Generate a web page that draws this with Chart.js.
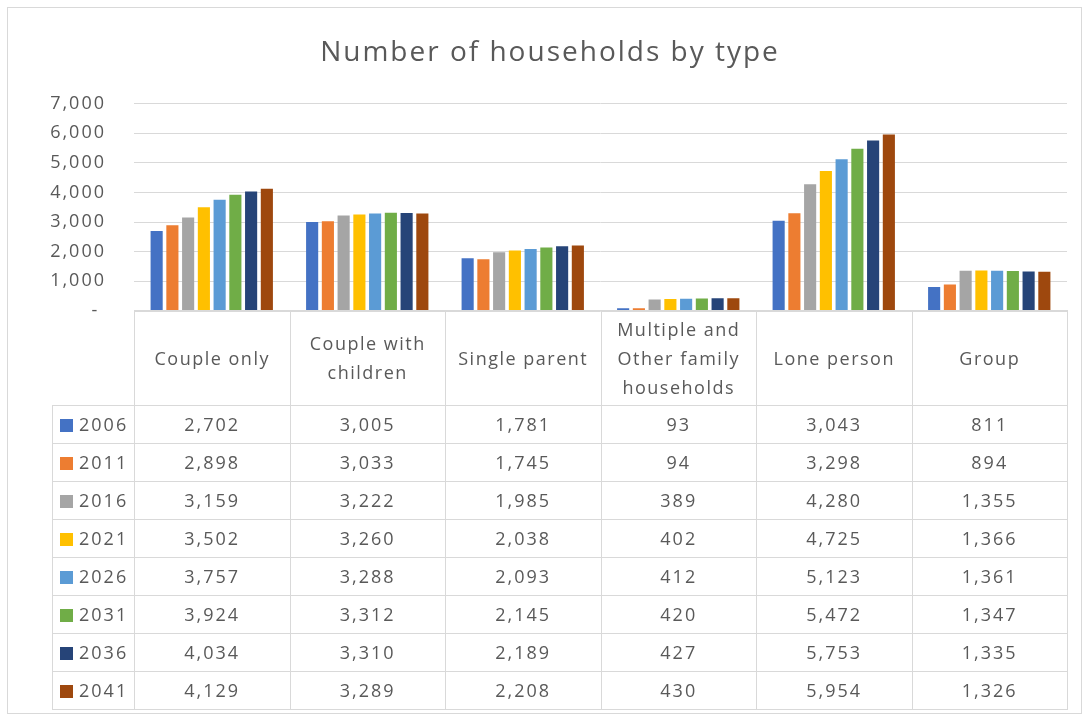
<!DOCTYPE html>
<html>
<head>
<meta charset="utf-8">
<script src="https://cdn.jsdelivr.net/npm/chart.js@4.4.1/dist/chart.umd.min.js"></script>
<style>
    body { margin: 0; background: #fff; }
    #wrap { position: relative; width: 1085px; height: 717px; }
    #frame { position: absolute; left: 7px; top: 7px; width: 1075px; height: 707px; border: 1px solid #d9d9d9; box-sizing: border-box; }
    #chartBox { position: absolute; left: 0; top: 0; width: 1085px; height: 717px; }
    #dataTable { position: absolute; left: 52px; top: 310px; border-collapse: collapse; table-layout: fixed;
        font-family: "Open Sans", sans-serif; font-size: 18px; color: #595959; letter-spacing: 1.5px; }
    #dataTable td { border: 1px solid #d9d9d9; text-align: center; padding: 0; line-height: 29px; }
    #dataTable td.num { letter-spacing: 2px; }
    #dataTable tr { height: 38px; }
    #dataTable tr.head { height: 95px; }
    #dataTable tr.head td.blank { border-top: none; border-left: none; }
    #dataTable td.key { text-align: left; padding-left: 7px; white-space: nowrap; letter-spacing: 2px; }
    .swatch { display: inline-block; width: 13px; height: 13px; margin-right: 6px; vertical-align: -1px; }
</style>
</head>
<body>
<div id="wrap">
    <div id="frame"></div>
    <div id="chartBox"><canvas id="householdChart"></canvas></div>
    <table id="dataTable"></table>
</div>
<script>
// household types (table header) and projection years
const categories = ['Couple only', 'Couple with children', 'Single parent', 'Multiple and Other family households', 'Lone person', 'Group'];
const headerLines = [['Couple only'], ['Couple with', 'children'], ['Single parent'], ['Multiple and', 'Other family', 'households'], ['Lone person'], ['Group']];
const years = ['2006', '2011', '2016', '2021', '2026', '2031', '2036', '2041'];
const yTicks = [0, 1000, 2000, 3000, 4000, 5000, 6000, 7000];

// one array per year, same order as categories
const v2006 = [2702, 3005, 1781, 93, 3043, 811];
const v2011 = [2898, 3033, 1745, 94, 3298, 894];
const v2016 = [3159, 3222, 1985, 389, 4280, 1355];
const v2021 = [3502, 3260, 2038, 402, 4725, 1366];
const v2026 = [3757, 3288, 2093, 412, 5123, 1361];
const v2031 = [3924, 3312, 2145, 420, 5472, 1347];
const v2036 = [4034, 3310, 2189, 427, 5753, 1335];
const v2041 = [4129, 3289, 2208, 430, 5954, 1326];
const seriesValues = [v2006, v2011, v2016, v2021, v2026, v2031, v2036, v2041];

const colors = ['#4472C4', '#ED7D31', '#A5A5A5', '#FFC000', '#5B9BD5', '#70AD47', '#264478', '#9E480E'];

const fmt = n => n.toLocaleString('en-US');

// Excel text here is spaced out a bit wider than Open Sans
const spacingPlugin = {
    id: 'spacing',
    beforeDraw(chart) { chart.ctx.letterSpacing = '2px'; }
};

const chart = new Chart(document.getElementById('householdChart'), {
    type: 'bar',
    data: {
        labels: categories,
        datasets: years.map((y, i) => ({
            label: y,
            data: seriesValues[i],
            backgroundColor: colors[i],
            barPercentage: 0.77,
            categoryPercentage: 0.81
        }))
    },
    options: {
        responsive: true,
        maintainAspectRatio: false,
        animation: false,
        layout: { padding: { top: 0, left: 33, right: 18, bottom: 406 } },
        scales: {
            x: { display: false },
            y: {
                min: yTicks[0],
                max: yTicks[yTicks.length - 1],
                afterBuildTicks: s => { s.ticks = yTicks.map(v => ({ value: v })); },
                afterFit: s => { s.width = 101; },
                ticks: {
                    color: '#595959',
                    font: { family: 'Open Sans', size: 18 },
                    padding: 28,
                    callback: v => v === 0 ? '- ' : fmt(v)
                },
                grid: { color: '#d9d9d9', drawTicks: false },
                border: { display: false }
            }
        },
        plugins: {
            legend: { display: false },
            tooltip: { enabled: false },
            title: {
                display: true,
                text: 'Number of households by type',
                color: '#595959',
                font: { family: 'Open Sans', size: 28, weight: 'normal' },
                padding: { top: 36, bottom: 34 }
            }
        }
    },
    plugins: [spacingPlugin]
});

// data table under the plot, columns lined up with the chart's category slots
function buildTable() {
    const area = chart.chartArea;
    const colW = (area.right - area.left) / categories.length;
    const table = document.getElementById('dataTable');
    let html = '<colgroup><col style="width:' + (area.left - 52) + 'px">';
    categories.forEach(() => { html += '<col style="width:' + colW + 'px">'; });
    html += '</colgroup><tr class="head"><td class="blank"></td>';
    headerLines.forEach(lines => { html += '<td>' + lines.join('<br>') + '</td>'; });
    html += '</tr>';
    years.forEach((y, i) => {
        html += '<tr><td class="key"><span class="swatch" style="background:' + colors[i] + '"></span>' + y + '</td>';
        seriesValues[i].forEach(v => { html += '<td class="num">' + fmt(v) + '</td>'; });
        html += '</tr>';
    });
    table.innerHTML = html;
}
buildTable();
</script>
</body>
</html>
